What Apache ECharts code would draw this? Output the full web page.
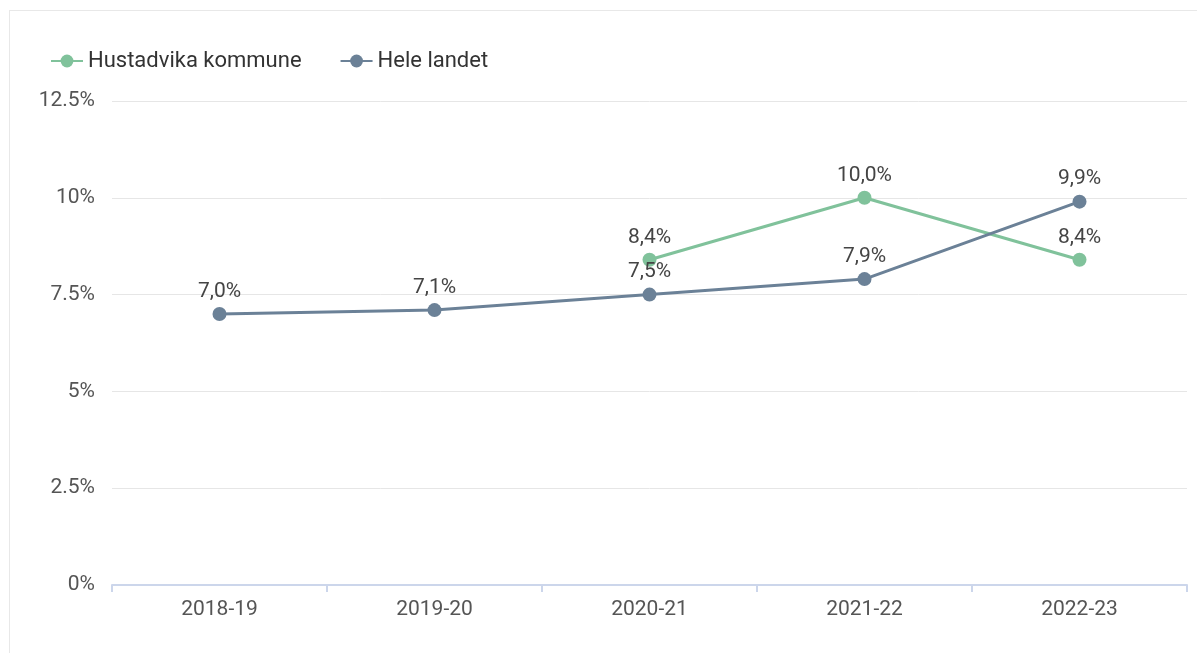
<!DOCTYPE html>
<html>
<head>
<meta charset="utf-8">
<script src="https://cdn.jsdelivr.net/npm/echarts@6/dist/echarts.min.js"></script>
<style>
  html, body { margin: 0; padding: 0; background: #fff; overflow: hidden; }
  #frame { position: absolute; left: 9px; top: 10px; width: 1220px; height: 700px; border: 1px solid #e8e8e8; }
  #myChart { position: absolute; left: 0; top: 0; width: 1197px; height: 653px; }
</style>
</head>
<body>
<div id="frame"></div>
<div id="myChart"></div>
<script>
// data
const categories = ['2018-19', '2019-20', '2020-21', '2021-22', '2022-23'];
const hustadvika = [null, null, 8.4, 10.0, 8.4];
const heleLandet = [7.0, 7.1, 7.5, 7.9, 9.9];
const seriesNames = ['Hustadvika kommune', 'Hele landet'];

const fontFamily = 'Roboto, "Noto Sans", sans-serif';

function pct(v) {
  return v.toFixed(1).replace('.', ',') + '%';
}

let myChart = echarts.init(document.getElementById('myChart'));
let option = {
  color: ['#80c29b', '#6b8197'],
  textStyle: { fontFamily: fontFamily },
  legend: {
    left: 45,
    top: 45,
    itemWidth: 32,
    itemHeight: 16,
    itemGap: 38,
    textStyle: { fontSize: 22, color: '#333', fontFamily: fontFamily },
    data: seriesNames
  },
  grid: { left: 112, right: 10, top: 101, bottom: 68 },
  xAxis: {
    type: 'category',
    data: categories,
    axisLine: { lineStyle: { color: '#ccd6eb', width: 2 } },
    axisTick: { show: true, length: 7, lineStyle: { color: '#ccd6eb', width: 2 } },
    axisLabel: { fontSize: 21, color: '#555', margin: 14, fontFamily: fontFamily }
  },
  yAxis: {
    type: 'value',
    min: 0,
    max: 12.5,
    interval: 2.5,
    axisLabel: {
      fontSize: 21, color: '#555', margin: 17, fontFamily: fontFamily,
      formatter: function (v) { return v + '%'; }
    },
    splitLine: { lineStyle: { color: '#e6e6e6' } }
  },
  series: [
    {
      name: seriesNames[0],
      type: 'line',
      data: hustadvika,
      symbol: 'circle',
      symbolSize: 14,
      lineStyle: { width: 3 },
      label: {
        show: true, position: 'top', distance: 5,
        fontSize: 21, color: '#444', fontFamily: fontFamily,
        formatter: function (p) { return pct(p.value); }
      }
    },
    {
      name: seriesNames[1],
      type: 'line',
      data: heleLandet,
      symbol: 'circle',
      symbolSize: 14,
      lineStyle: { width: 3 },
      label: {
        show: true, position: 'top', distance: 5,
        fontSize: 21, color: '#444', fontFamily: fontFamily,
        formatter: function (p) { return pct(p.value); }
      }
    }
  ]
};
myChart.setOption(option);
</script>
</body>
</html>
